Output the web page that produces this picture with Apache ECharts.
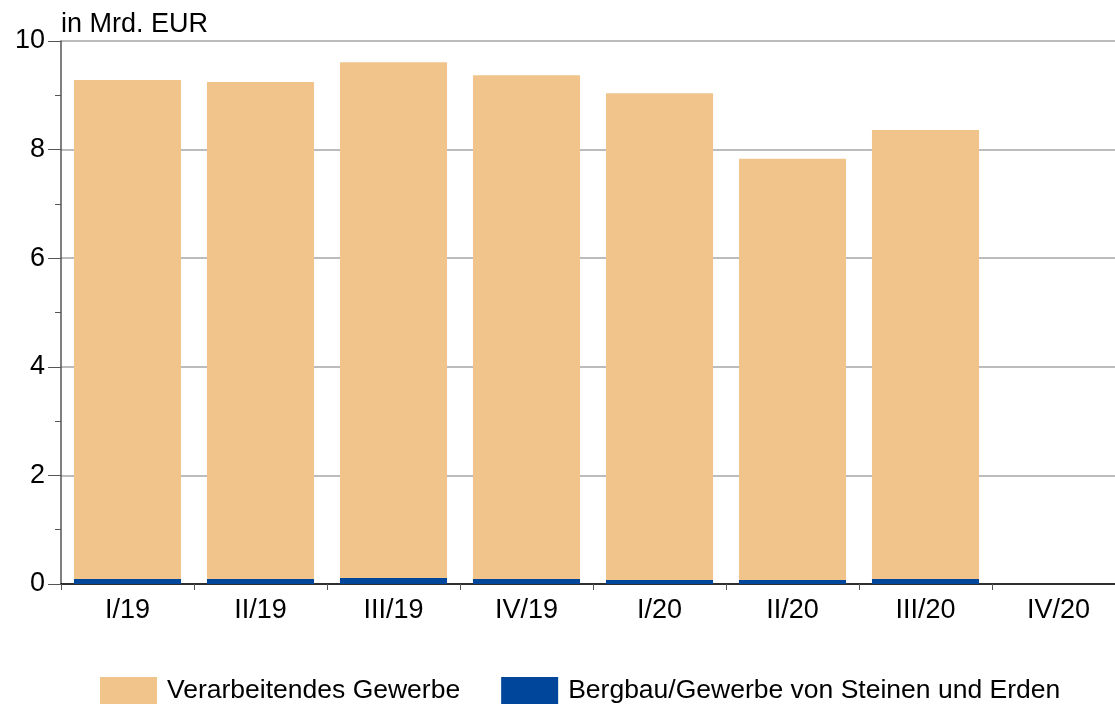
<!DOCTYPE html>
<html>
<head>
<meta charset="utf-8">
<script src="https://cdn.jsdelivr.net/npm/echarts@6/dist/echarts.min.js"></script>
<style>
  html, body { margin: 0; padding: 0; background: #fff; }
  #chart { width: 1115px; height: 704px; }
</style>
</head>
<body>
<div id="chart"></div>
<script>
// quarters on the x axis
const categories = ['I/19', 'II/19', 'III/19', 'IV/19', 'I/20', 'II/20', 'III/20', 'IV/20'];
// in Mrd. EUR, stacked
const bergbau = [0.09, 0.09, 0.11, 0.09, 0.075, 0.075, 0.09, null];
const verarbeitend = [9.19, 9.155, 9.50, 9.28, 8.965, 7.755, 8.27, null];
const yTicks = [0, 2, 4, 6, 8, 10];

const font = 'Liberation Sans, Arial, sans-serif';

const chart = echarts.init(document.getElementById('chart'));

chart.setOption({
    animation: false,
    grid: { left: 61, top: 41, width: 1064, bottom: 120, outerBoundsMode: 'none', containLabel: false },
    legend: {
        top: 677,
        left: 100,
        padding: 0,
        itemWidth: 57,
        itemHeight: 27,
        itemGap: 41,
        icon: 'rect',
        textStyle: { fontFamily: font, fontSize: 26.5, color: '#000', padding: [0, 0, 0, 5] },
        data: ['Verarbeitendes Gewerbe', 'Bergbau/Gewerbe von Steinen und Erden']
    },
    xAxis: {
        type: 'category',
        data: categories,
        axisLine: { lineStyle: { color: '#000', width: 1.5 } },
        axisTick: { show: true, length: 6, lineStyle: { color: '#555' } },
        axisLabel: { fontFamily: font, fontSize: 27, color: '#000', margin: 13 }
    },
    yAxis: {
        type: 'value',
        min: yTicks[0],
        max: yTicks[yTicks.length - 1],
        interval: 2,
        name: 'in Mrd. EUR',
        nameLocation: 'end',
        nameGap: 3,
        nameTextStyle: { fontFamily: font, fontSize: 27, color: '#000', align: 'left' },
        axisLine: { show: true, lineStyle: { color: '#555', width: 1.5 } },
        axisTick: { show: true, length: 13, lineStyle: { color: '#555' } },
        minorTick: { show: true, splitNumber: 2, length: 6, lineStyle: { color: '#555' } },
        axisLabel: { fontFamily: font, fontSize: 27, color: '#000', margin: 16 },
        splitLine: { show: true, lineStyle: { color: '#a6a6a6', width: 1.5 } }
    },
    series: [
        {
            name: 'Bergbau/Gewerbe von Steinen und Erden',
            type: 'bar',
            stack: 'total',
            data: bergbau,
            barCategoryGap: '19.5%',
            itemStyle: { color: '#00479b' }
        },
        {
            name: 'Verarbeitendes Gewerbe',
            type: 'bar',
            stack: 'total',
            data: verarbeitend,
            barCategoryGap: '19.5%',
            itemStyle: { color: '#f1c48c' }
        }
    ]
});
</script>
</body>
</html>
